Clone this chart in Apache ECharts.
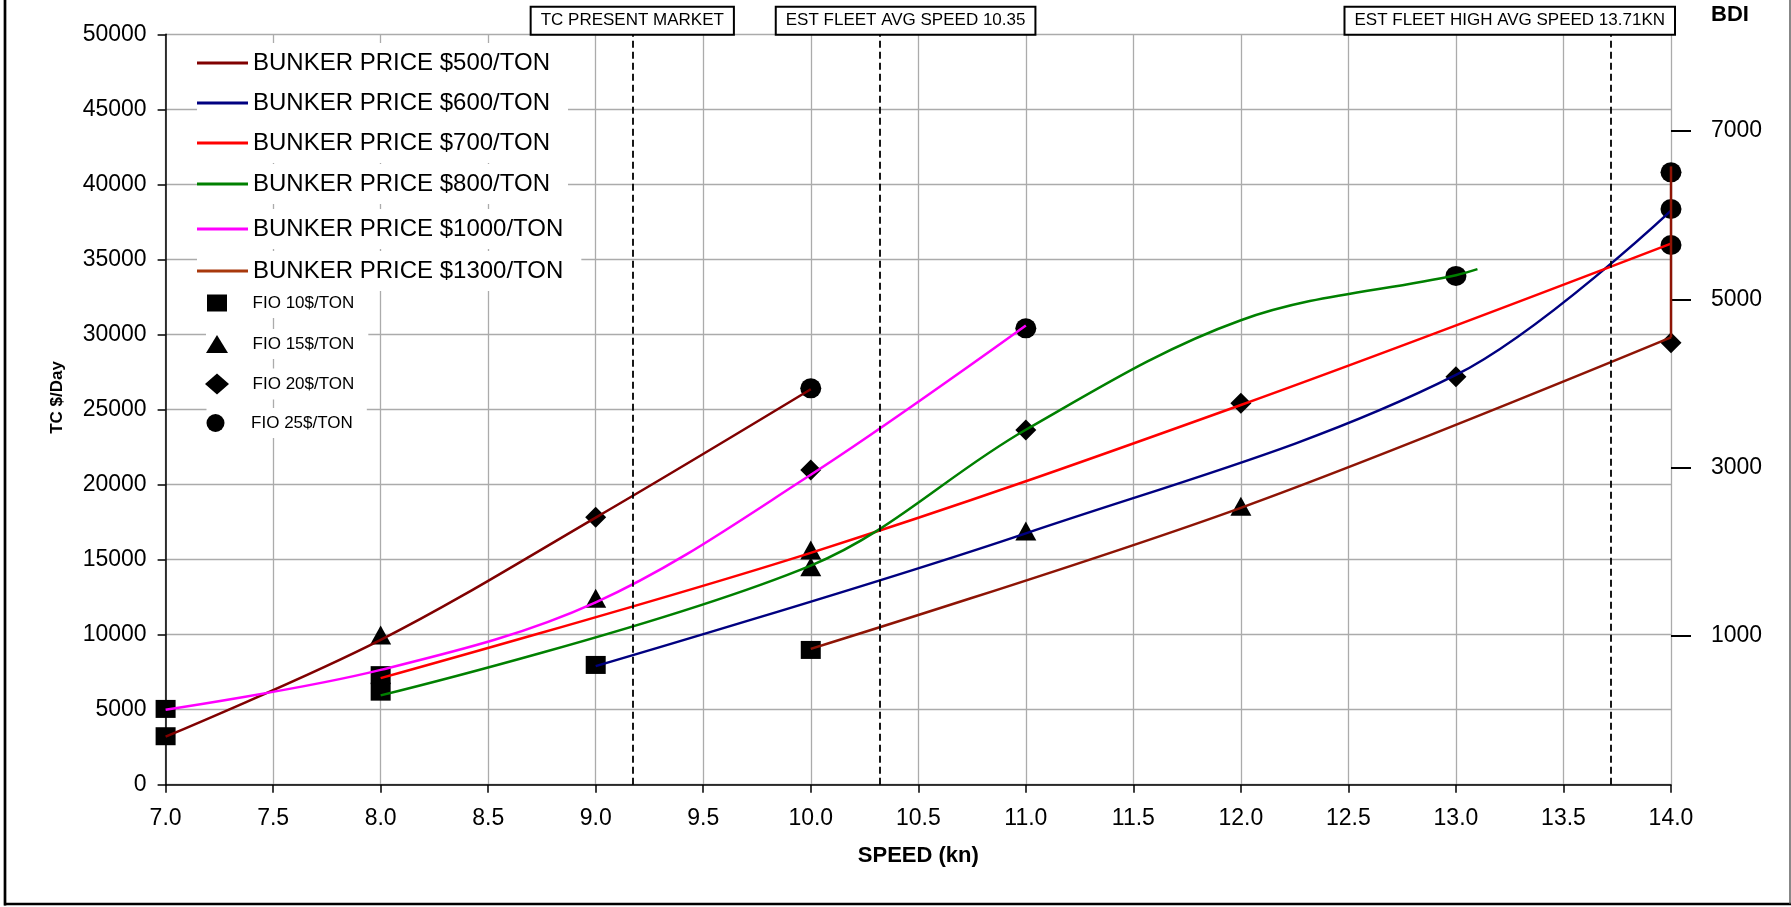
<!DOCTYPE html>
<html><head><meta charset="utf-8">
<script src="https://cdn.jsdelivr.net/npm/echarts@6/dist/echarts.min.js"></script>
<style>html,body{margin:0;padding:0;background:#fff}#c{width:1791px;height:907px}</style>
</head><body><div id="c"></div>
<script>
// ---- data (speed kn, TC $/day) ----
const bunker500 = [[7,3200],[8,9650],[9,17800],[10,26350]];
const bunker600 = [[9,7900],[11,16750],[13,27300],[14,38250]];
const bunker700 = [[8,7100],[10,15450],[12,25300],[14,36050]];
const bunker800 = [[8,5950],[10,14600],[11,23650],[12,30950],[13,33950],[13.1,34350]];
const bunker1000 = [[7,5000],[8,7650],[9,12150],[10,20650],[11,30600]];
const bunker1300 = [[10,9050],[12,18450],[14,29800]];
const bunker1300Rise = [[14,29800],[14,41200]];
const fio10 = [[7,5050],[7,3230],[8,7300],[8,6200],[9,7980],[10,8980]];
const fio15 = [[8,9980],[9,12420],[10,15640],[10,14530],[11,16900],[12,18550]];
const fio20 = [[9,17820],[10,20970],[11,23630],[12,25420],[13,27190],[14,29450]];
const fio25 = [[10,26410],[11,30410],[13,33900],[14,40800],[14,38360],[14,35960]];
const refSpeeds = [9.17, 10.32, 13.72];
const refTexts = ['TC PRESENT MARKET', 'EST FLEET AVG SPEED 10.35', 'EST FLEET HIGH AVG SPEED 13.71KN'];
const bdiTicks = [1000, 3000, 5000, 7000];
const bdiRange = [-774, 8152];
const lineNames = ['BUNKER PRICE $500/TON','BUNKER PRICE $600/TON','BUNKER PRICE $700/TON','BUNKER PRICE $800/TON','BUNKER PRICE $1000/TON','BUNKER PRICE $1300/TON'];
const fioNames = ['FIO 10$/TON','FIO 15$/TON','FIO 20$/TON','FIO 25$/TON'];

// ---- styles ----
const FONT = '"Liberation Sans", Arial, sans-serif';
const lineColors = ['#800000','#000080','#FF0000','#008000','#FF00FF','#8E1405'];
const legendColors = ['#800000','#000080','#FF0000','#008000','#FF00FF','#A8380C'];
const SMOOTH = 0.35;
const lineData = [bunker500, bunker600, bunker700, bunker800, bunker1000, bunker1300];
const fioData = [fio10, fio15, fio20, fio25];
const fioSymbols = ['rect','triangle','diamond','circle'];
const fioSizes = [[20,18],[21,19],[21,21],[21,20]];
const fioLegendSizes = [[20,17],[22,18],[24,21],[21,18]];
const lineLegendY = [63, 103, 143, 184, 229, 271];
const fioLegendY = [303, 344, 384, 423];

const series = [];
fioData.forEach((d, i) => series.push({
  type: 'scatter', name: fioNames[i], data: d, symbol: fioSymbols[i], symbolSize: fioSizes[i],
  itemStyle: {color: '#000', opacity: 1}, z: 2, silent: true
}));
lineData.forEach((d, i) => series.push({
  type: 'line', name: lineNames[i], data: d, smooth: SMOOTH, symbol: 'none', showSymbol: false,
  lineStyle: {color: lineColors[i], width: 2.5}, itemStyle: {color: lineColors[i]}, z: 3, silent: true
}));
series.push({
  type: 'line', name: lineNames[5], data: bunker1300Rise, smooth: false, symbol: 'none', showSymbol: false,
  lineStyle: {color: lineColors[5], width: 2.5}, itemStyle: {color: lineColors[5]}, z: 3, silent: true
});
series.push({
  type: 'line', name: 'ref', data: [], silent: true, z: 4,
  markLine: {
    silent: true, symbol: ['none','none'], animation: false,
    label: {show: false},
    lineStyle: {color: '#000', type: [7,4], width: 1.8},
    data: refSpeeds.map(s => ({xAxis: s}))
  }
});

const legends = [];
lineNames.forEach((n, i) => {
  legends.push({
    left: 197, top: lineLegendY[i] - 13 - 7, padding: [7, 18, 7, 0], backgroundColor: '#fff',
    itemWidth: 51, itemHeight: 3, selectedMode: false, orient: 'horizontal',
    textStyle: {fontSize: 24, lineHeight: 26, color: '#000', fontFamily: FONT},
    data: [{name: n, icon: 'rect', itemStyle: {color: legendColors[i], borderWidth: 0}}]
  });
});
fioNames.forEach((n, i) => {
  const [w, h] = fioLegendSizes[i];
  const ih = Math.max(h, 20);
  legends.push({
    left: 217 - w / 2, top: fioLegendY[i] - ih / 2 - 5, padding: [5, 14, 5, 0], backgroundColor: '#fff',
    itemWidth: w, itemHeight: h, selectedMode: false,
    textStyle: {fontSize: 17, lineHeight: 20, color: '#000', fontFamily: FONT, padding: [0, 0, 0, 252.6 - (217 + w / 2 + 5)]},
    data: [{name: n, icon: fioSymbols[i], itemStyle: {color: '#000'}}]
  });
});

const option = {
  animation: false,
  backgroundColor: '#fff',
  textStyle: {fontFamily: FONT},
  grid: {left: 165.6, right: 120, top: 34.3, bottom: 122.3, containLabel: false},
  legend: legends,
  xAxis: {
    type: 'value', min: 7, max: 14, interval: 0.5,
    name: 'SPEED (kn)', nameLocation: 'middle', nameGap: 60,
    nameTextStyle: {fontSize: 22, fontWeight: 'bold', color: '#000', fontFamily: FONT},
    axisLine: {show: true, lineStyle: {color: '#000', width: 1.5}},
    axisTick: {show: true, length: 8, lineStyle: {color: '#000', width: 1.5}},
    axisLabel: {formatter: v => v.toFixed(1), margin: 22, fontSize: 23, color: '#000', fontFamily: FONT},
    splitLine: {show: true, lineStyle: {color: '#ABABAB', width: 1.3}}
  },
  yAxis: [{
    type: 'value', min: 0, max: 50000, interval: 5000,
    name: 'TC $/Day', nameLocation: 'middle', nameGap: 100, nameRotate: 90,
    nameTextStyle: {fontSize: 17, fontWeight: 'bold', color: '#000', fontFamily: FONT, padding: [0, 0, 0, 24]},
    axisLine: {show: true, lineStyle: {color: '#000', width: 1.5}},
    axisTick: {show: true, length: 8, lineStyle: {color: '#000', width: 1.5}},
    axisLabel: {formatter: v => String(v), margin: 19, fontSize: 23, color: '#000', fontFamily: FONT},
    splitLine: {show: true, lineStyle: {color: '#ABABAB', width: 1.3}}
  }, {
    type: 'value', position: 'right', min: bdiRange[0], max: bdiRange[1],
    name: 'BDI', nameLocation: 'end', nameGap: 8,
    nameTextStyle: {fontSize: 22, fontWeight: 'bold', color: '#000', fontFamily: FONT, padding: [0, 0, 0, 118]},
    axisLine: {show: false},
    axisTick: {show: true, length: 20, customValues: bdiTicks, lineStyle: {color: '#000', width: 2}},
    axisLabel: {customValues: bdiTicks, formatter: v => String(Math.round(v)), margin: 40, fontSize: 23, color: '#000', fontFamily: FONT},
    splitLine: {show: false}
  }],
  series: series
};

const chart = echarts.init(document.getElementById('c'), null, {renderer: 'canvas'});
chart.setOption(option);

// annotation boxes anchored to the reference speed lines through the axis scale
const plotTop = chart.convertToPixel({yAxisIndex: 0}, 50000);
const plotRight = chart.convertToPixel({xAxisIndex: 0}, 14);
const boxStyle = {fontSize: 17, fontFamily: FONT, fill: '#000', backgroundColor: '#fff',
  borderColor: '#000', borderWidth: 2, padding: [3, 9, 3, 9], lineHeight: 20, verticalAlign: 'bottom'};
const graphics = refTexts.map((t, i) => {
  const px = chart.convertToPixel({xAxisIndex: 0}, refSpeeds[i]);
  let x = px, align = 'center';
  if (i === 1) { x = px + 26; }
  if (i === 2) { x = plotRight + 3; align = 'right'; }
  return {type: 'text', x: x, y: plotTop - 0.5, z: 10,
    style: Object.assign({}, boxStyle, {text: t, align: align})};
});
// outer frame
graphics.push({type: 'line', z: 10, shape: {x1: 5, y1: 0, x2: 5, y2: 905.5}, style: {stroke: '#000', lineWidth: 2.7}});
graphics.push({type: 'line', z: 10, shape: {x1: 4, y1: 904, x2: 1791, y2: 904}, style: {stroke: '#000', lineWidth: 2.7}});
graphics.push({type: 'line', z: 10, shape: {x1: 1790, y1: 0, x2: 1790, y2: 904}, style: {stroke: '#555', lineWidth: 1.4}});
chart.setOption({graphic: graphics});
</script>
</body></html>
